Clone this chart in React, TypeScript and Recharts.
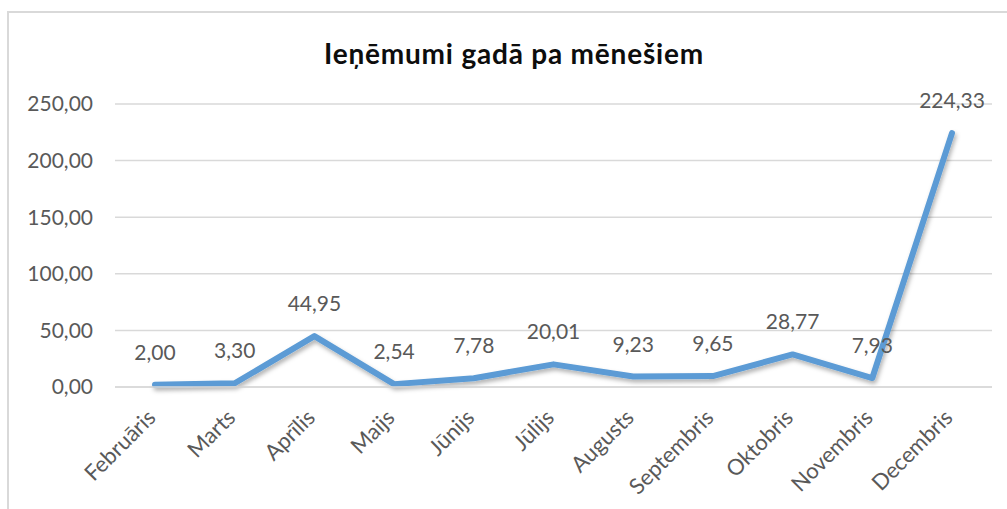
import { LineChart, Line, XAxis, YAxis, CartesianGrid, LabelList } from "recharts";

const months = [
  "Februāris", "Marts", "Aprīlis", "Maijs", "Jūnijs", "Jūlijs",
  "Augusts", "Septembris", "Oktobris", "Novembris", "Decembris",
];
const revenue = [2.0, 3.3, 44.95, 2.54, 7.78, 20.01, 9.23, 9.65, 28.77, 7.93, 224.33];
const yTicks = [0, 50, 100, 150, 200, 250];

const data = months.map((month, i) => ({ month, value: revenue[i] }));

// Excel-style decimal comma
const fmt = (v: number) => v.toFixed(2).replace(".", ",");

const FONT = "Lato, 'Open Sans', sans-serif";
const GREY = "#595959";

function MonthTick({ x, y, payload }: any) {
  const ax = x + 2;
  const ay = y + 32;
  return (
    <text x={ax} y={ay} textAnchor="end" fill={GREY} fontSize={22} fontFamily={FONT}
      transform={`rotate(-45 ${ax} ${ay})`}>
      {payload.value}
    </text>
  );
}

function ValueLabel({ x, y, value }: any) {
  return (
    <text x={x} y={y - 25} textAnchor="middle" fill={GREY} fontSize={21} fontFamily={FONT}>
      {fmt(value)}
    </text>
  );
}

export default function App() {
  return (
    <div style={{ position: "absolute", left: 0, top: 0, width: 1007, height: 509, background: "#fff", overflow: "hidden" }}>
      {/* chart frame, only top and left edges fall inside the crop */}
      <div style={{
        position: "absolute", left: 7, top: 11, width: 1000, height: 498,
        borderTop: "2px solid #d9d9d9", borderLeft: "2px solid #d9d9d9",
      }} />
      <div style={{
        position: "absolute", left: 0, top: 39, width: 1028, textAlign: "center",
        fontFamily: FONT, fontWeight: 700, fontSize: 28, lineHeight: "28px",
        letterSpacing: 0.8, color: "#0d0d0d",
      }}>
        Ieņēmumi gadā pa mēnešiem
      </div>
      <div style={{ position: "absolute", left: 0, top: 0 }}>
        <LineChart width={1007} height={509} data={data}
          margin={{ top: 104, right: 15, bottom: 0, left: 0 }}>
          <defs>
            <filter id="lineShadow" x="-5%" y="-10%" width="110%" height="130%">
              <feDropShadow dx="1.5" dy="3" stdDeviation="2" floodColor="#000" floodOpacity="0.3" />
            </filter>
          </defs>
          <CartesianGrid vertical={false} stroke="#d9d9d9" strokeWidth={1.5} />
          <XAxis dataKey="month" height={122} padding={{ left: 40, right: 40 }}
            axisLine={{ stroke: "#d9d9d9", strokeWidth: 1.5 }} tickLine={false}
            tickSize={0} tickMargin={0} interval={0} tick={<MonthTick />} />
          <YAxis width={115} domain={[0, 250]} ticks={yTicks} tickFormatter={fmt}
            axisLine={false} tickLine={false} tickSize={0} tickMargin={22}
            tick={{ fill: GREY, fontSize: 21, fontFamily: FONT }} />
          <Line type="linear" dataKey="value" stroke="#5b9bd5" strokeWidth={6}
            strokeLinecap="round" strokeLinejoin="round" filter="url(#lineShadow)"
            dot={false} activeDot={false} isAnimationActive={false}>
            <LabelList dataKey="value" content={<ValueLabel />} />
          </Line>
        </LineChart>
      </div>
    </div>
  );
}
